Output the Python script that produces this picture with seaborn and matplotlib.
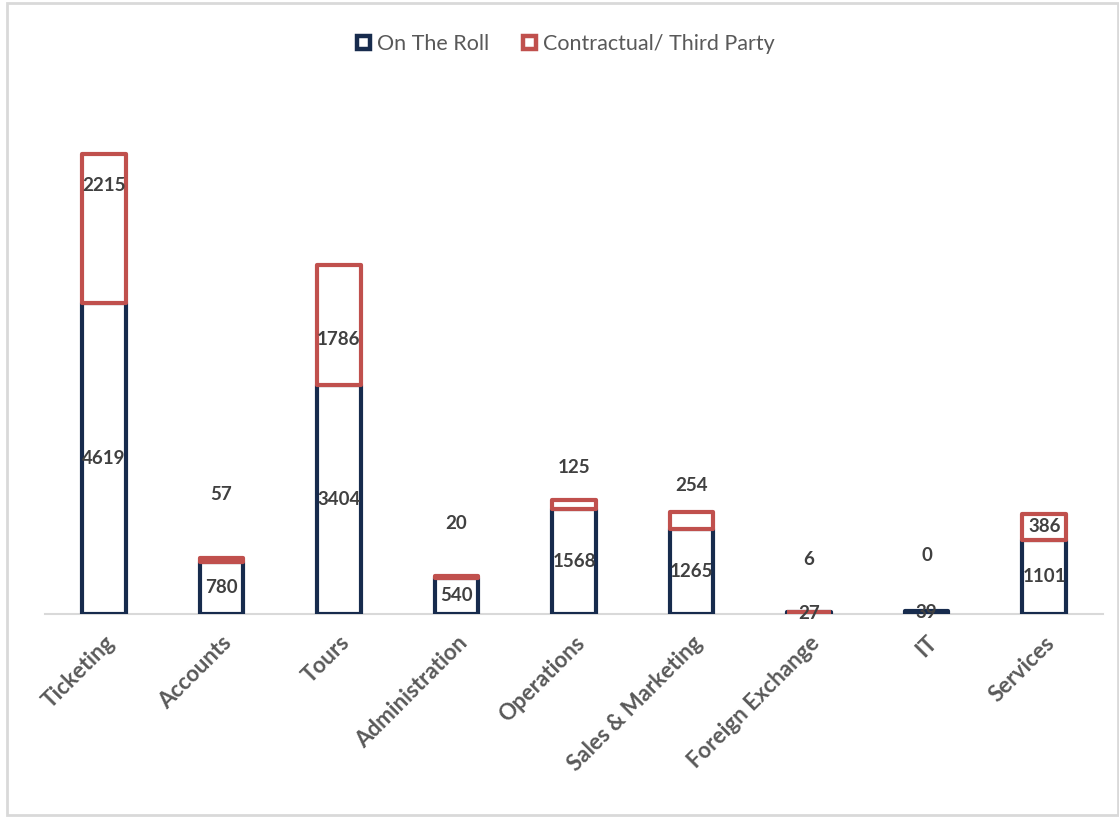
import matplotlib
matplotlib.use("Agg")
import matplotlib.pyplot as plt
from matplotlib.patches import Patch, Rectangle
import seaborn as sns
import pandas as pd

departments = ["Ticketing", "Accounts", "Tours", "Administration", "Operations",
               "Sales & Marketing", "Foreign Exchange", "IT", "Services"]
on_roll = [4619, 780, 3404, 540, 1568, 1265, 27, 39, 1101]
contractual = [2215, 57, 1786, 20, 125, 254, 6, 0, 386]
series_names = ["On The Roll", "Contractual/ Third Party"]

# label placement for the contractual values (data units, as seen in the reference)
contract_label_y = [6369, 1771, 4077, 1339, 2173, 1905, 804, 863, 1294]

NAVY = "#172B4D"
RED = "#C0504D"
TXT = "#404040"

sns.set_theme(style="white")
plt.rcParams["font.family"] = ["Lato", "DejaVu Sans"]

df = pd.DataFrame({"dept": departments, "on_roll": on_roll, "contract": contractual})

fig = plt.figure(figsize=(11.19, 8.17), dpi=100)
ax = fig.add_axes([45 / 1119, 203 / 817, 1058 / 1119, 538 / 817])

sns.barplot(data=df, x="dept", y="on_roll", order=departments, ax=ax,
            color="white", edgecolor=NAVY, linewidth=3, width=0.37, zorder=2)
n_before = len(ax.patches)
sns.barplot(data=df, x="dept", y="contract", order=departments, ax=ax,
            color="white", edgecolor=RED, linewidth=3, width=0.37,
            bottom=df["on_roll"].values, zorder=3)
for p in ax.patches:
    p.set_joinstyle("round")
for p in ax.patches[n_before:]:
    if p.get_height() == 0:
        p.set_visible(False)

ax.set_ylim(0, 8000)
ax.set_xlim(-0.5, len(departments) - 0.5)
ax.set_xlabel("")
ax.set_ylabel("")
ax.set_yticks([])
for s in ["top", "right", "left"]:
    ax.spines[s].set_visible(False)
ax.spines["bottom"].set_color("#D9D9D9")
ax.spines["bottom"].set_linewidth(1.5)
ax.spines["bottom"].set_zorder(1)

# value labels
for i, (a, b) in enumerate(zip(on_roll, contractual)):
    ax.text(i, a / 2, f"{a}", ha="center", va="center", fontsize=13.5,
            fontweight="bold", color=TXT, zorder=5)
    ax.text(i, contract_label_y[i], f"{b}", ha="center", va="center", fontsize=13.5,
            fontweight="bold", color=TXT, zorder=5)

ax.tick_params(axis="x", length=0, pad=13)
ax.set_xticks(range(len(departments)))
ax.set_xticklabels(departments, rotation=45, ha="right", rotation_mode="anchor",
                   fontsize=16, fontweight="bold", color="#595959")

handles = [Patch(facecolor="white", edgecolor=NAVY, linewidth=3.2, label=series_names[0]),
           Patch(facecolor="white", edgecolor=RED, linewidth=3.2, label=series_names[1])]
leg = fig.legend(handles=handles, loc="center", bbox_to_anchor=(566 / 1119, 1 - 44 / 817),
                 ncol=2, frameon=False, fontsize=15.5, handlelength=0.6, handleheight=0.6,
                 handletextpad=0.3, columnspacing=1.6)
for t in leg.get_texts():
    t.set_color("#595959")

fig.patches.append(Rectangle((7 / 1119, 2 / 817), 1111 / 1119, 812 / 817,
                             transform=fig.transFigure, fill=False,
                             edgecolor="#D9D9D9", linewidth=2))

fig.savefig("out.png", dpi=100, facecolor="white")
